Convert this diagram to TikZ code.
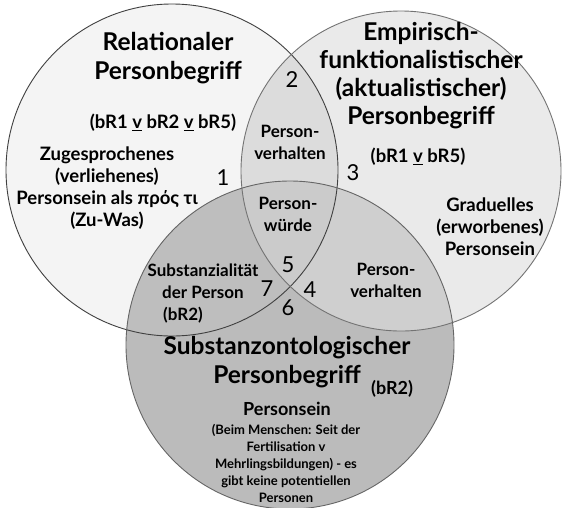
\documentclass[tikz,border=0pt]{standalone}
\usepackage{fontspec}
\setmainfont{Lato}
\definecolor{lonly}{HTML}{F4F4F4}
\definecolor{ronly}{HTML}{EAEAEA}
\definecolor{lrboth}{HTML}{DCDCDC}
\definecolor{bonly}{HTML}{BBBBBB}
\definecolor{lbboth}{HTML}{BEBEBE}
\definecolor{rbboth}{HTML}{CFCFCF}
\definecolor{lrball}{HTML}{CBCBCB}
\begin{document}
\begin{tikzpicture}[x=1pt, y=-1pt,
  ttl/.style={font=\bfseries\fontsize{24.5}{29}\selectfont, align=center, inner sep=0pt},
  txt/.style={font=\bfseries\fontsize{18.5}{22}\selectfont, align=center, inner sep=0pt},
  lens/.style={font=\bfseries\fontsize{17}{22}\selectfont, align=center, inner sep=0pt},
  sml/.style={font=\bfseries\fontsize{13}{17}\selectfont, align=center, inner sep=0pt},
  num/.style={font=\fontsize{22}{22}\selectfont, inner sep=0pt},
  rim/.style={line width=0.9pt}]
\clip (0,0) rectangle (562,507);
\fill[white] (0,0) rectangle (562,507);
\coordinate (L) at (172,170);
\coordinate (R) at (401,171);
\coordinate (B) at (290,345);
\fill[lonly] (L) circle (166pt);
\fill[ronly] (R) circle (160pt);
\begin{scope}
\clip (L) circle (166pt);
\fill[lrboth] (R) circle (160pt);
\end{scope}
\fill[bonly] (B) circle (164pt);
\begin{scope}
\clip (B) circle (164pt);
\fill[lbboth] (L) circle (166pt);
\fill[rbboth] (R) circle (160pt);
\clip (R) circle (160pt);
\fill[lrball] (L) circle (166pt);
\end{scope}
\draw[rim, draw=black!75] (L) circle (166pt);
\draw[rim, draw=black!55] (R) circle (160pt);
\draw[rim, draw=black!60] (B) circle (164pt);
\node[ttl] (reltitle) at (168,58) {Relationaler\\Personbegriff};
\node[txt] (relform) at (163,123) {(bR1 \underline{v} bR2 \underline{v} bR5)};
\node[txt] (relbody) at (107,188) {Zugesprochenes\\(verliehenes)\\Personsein als πρός τι\\(Zu-Was)};
\node[ttl, font=\bfseries\fontsize{24.5}{28}\selectfont] (emptitle) at (421,76) {Empirisch-\\funktionalistischer\\(aktualistischer)\\Personbegriff};
\node[txt] (empform) at (418,157) {(bR1 \underline{v} bR5)};
\node[txt] (empbody) at (490,227) {Graduelles\\(erworbenes)\\Personsein};
\node[lens] (lrtext) at (290,142) {Person-\\verhalten};
\node[lens] (alltext) at (288,214) {Person-\\würde};
\node[lens] (rbtext) at (386,280) {Person-\\verhalten};
\node[lens] (lbtext) at (203,294) {Substanzialität\\der Person\\(bR2)\hspace*{40pt}};
\node[ttl] (subtitle) at (287,362) {Substanzontologischer\\Personbegriff};
\node[txt, font=\bfseries\fontsize{18}{20}\selectfont] (subform) at (392,389) {(bR2)};
\node[txt, font=\bfseries\fontsize{18}{20}\selectfont] (subhead) at (287,409) {Personsein};
\node[sml] (subbody) at (286,463) {(Beim Menschen: Seit der\\Fertilisation v\\Mehrlingsbildungen) - es\\gibt keine potentiellen\\Personen};
\node[num] (n1) at (223,178) {1};
\node[num] (n2) at (292,80) {2};
\node[num] (n3) at (353,173) {3};
\node[num] (n4) at (310,290) {4};
\node[num] (n5) at (288,265) {5};
\node[num] (n6) at (288,308) {6};
\node[num] (n7) at (267,289) {7};
\end{tikzpicture}
\end{document}
